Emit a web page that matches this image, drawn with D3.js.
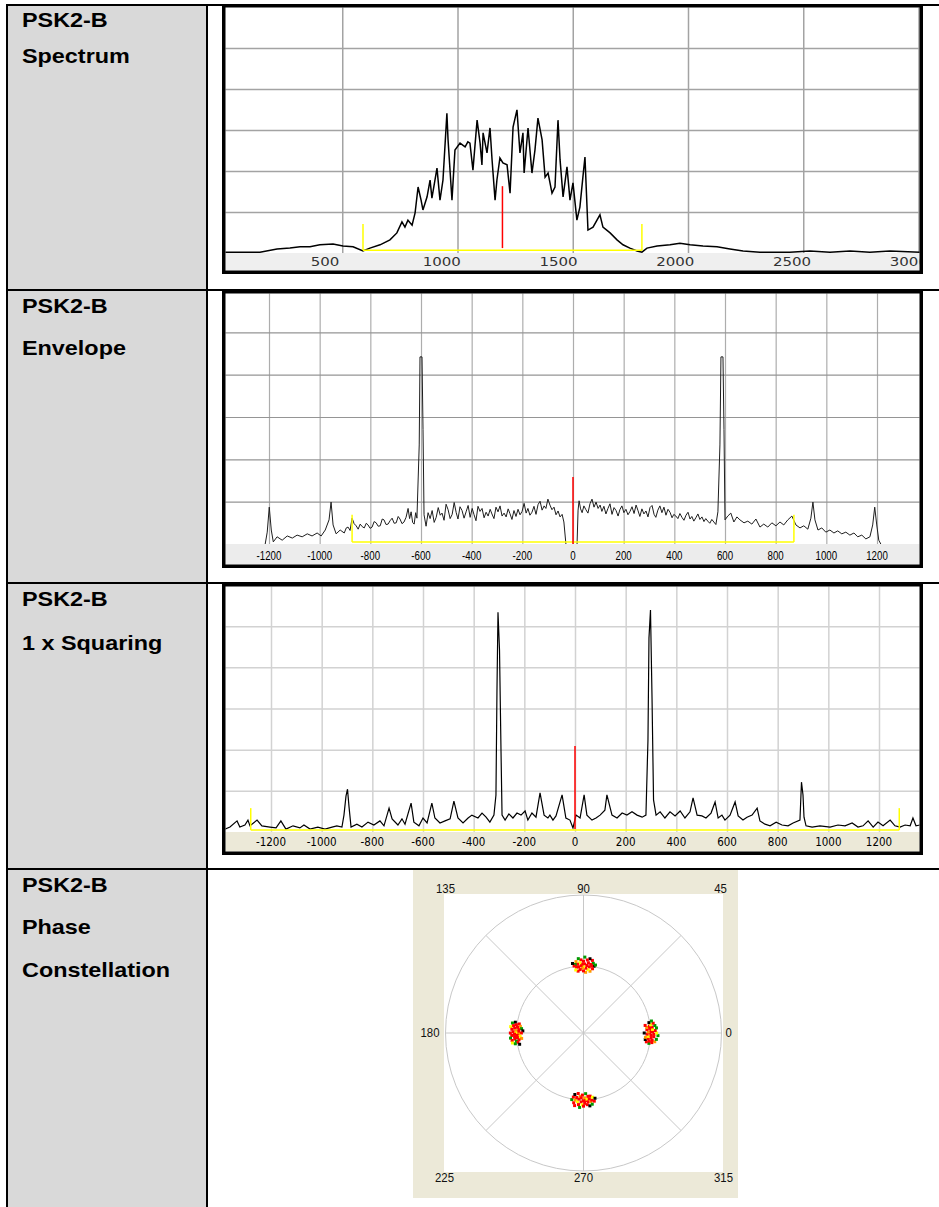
<!DOCTYPE html>
<html>
<head>
<meta charset="utf-8">
<title>PSK2-B signal analysis</title>
<script src="https://cdn.jsdelivr.net/npm/d3@7"></script>
<style>
  html, body { margin: 0; padding: 0; background: #fff; }
  svg { display: block; }
</style>
</head>
<body>
<svg id="page" width="939" height="1207"></svg>
<script>
// ---------------- data ----------------
const rowTitles = [
  ["PSK2-B", "Spectrum"],
  ["PSK2-B", "Envelope"],
  ["PSK2-B", "1 x Squaring"],
  ["PSK2-B", "Phase", "Constellation"]
];

// Spectrum: [frequency Hz, level]
const specTrace = [
  [-9,0.2],[143,0.2],[217,1.0],[273,1.2],[317,1.5],[360,1.5],[403,2.0],[460,2.2],[503,1.7],[547,1.5],
  [590,0.5],[620,1.2],[664,2.0],[707,3.2],[737,4.9],[759,7.6],[772,6.3],[785,8.0],[803,6.8],[816,9.8],
  [829,16.1],[842,12.9],[850,10.5],[868,13.7],[881,17.8],[889,13.4],[911,20.7],[924,12.9],[937,17.8],[954,34.1],
  [959,27.6],[976,12.9],[989,25.1],[1011,26.8],[1033,25.9],[1045,27.1],[1054,26.8],[1067,20.2],[1085,32.4],[1098,26.8],
  [1106,21.5],[1111,29.3],[1128,24.4],[1141,30.5],[1150,22.7],[1163,12.9],[1171,17.8],[1184,23.2],[1197,22.0],[1215,21.5],
  [1228,14.6],[1241,30.7],[1258,34.9],[1271,24.4],[1284,29.3],[1289,19.5],[1306,30.5],[1323,19.5],[1336,25.1],[1349,32.9],
  [1367,27.6],[1380,18.5],[1393,19.5],[1410,14.6],[1423,16.1],[1436,32.4],[1445,22.7],[1458,13.7],[1475,21.0],[1488,12.9],
  [1501,17.1],[1518,8.0],[1531,11.2],[1544,18.5],[1553,23.4],[1566,5.6],[1588,6.3],[1618,9.3],[1631,6.3],[1662,4.9],
  [1692,3.2],[1718,2.0],[1748,1.2],[1779,0.5],[1800,0.2],[1822,1.2],[1866,1.7],[1922,2.0],[1965,2.4],[2009,2.0],
  [2065,1.7],[2126,1.5],[2182,1.0],[2239,0.5],[2312,0.2],[2442,0.2],[2529,0.5],[2616,0.2],[2703,0.5],[2789,0.2],
  [2876,0.5],[3006,0.2]
];
const specTicks = [500, 1000, 1500, 2000, 2500, 3000];
const specBand = [590, 1800];
const specCarrier = 1195;
const specMarks = { base: 0.7, tick: 7.1, carrierLow: 1.2, carrierHigh: 16.3 };

// Envelope: [frequency Hz, level]; null breaks the trace
const envTrace = [
  [-1215,0],[-1207,2.8],[-1199,8.7],[-1191,3.3],[-1183,0.5],[-1168,1.7],[-1148,0.9],[-1128,1.9],[-1108,1.4],[-1089,2.1],
  [-1069,1.7],[-1049,2.4],[-1030,1.9],[-1010,2.6],[-994,1.9],[-978,3.3],[-963,5.7],[-955,9.9],[-947,4.5],[-935,2.4],
  [-919,3.3],[-903,2.6],[-895,3.8],[-888,4.0],[-880,3.2],[-872,6.1],[-864,4.8],[-856,4.3],[-848,3.5],[-840,4.7],
  [-832,4.1],[-824,3.8],[-816,4.9],[-809,4.5],[-801,3.7],[-793,4.0],[-785,5.3],[-777,5.0],[-769,4.2],[-761,4.3],
  [-753,5.9],[-746,5.7],[-738,4.6],[-730,4.7],[-722,5.5],[-714,6.1],[-706,4.9],[-698,5.0],[-690,6.5],[-683,5.9],
  [-675,4.8],[-667,5.2],[-659,6.3],[-651,8.4],[-645,6.0],[-639,7.6],[-633,5.1],[-627,4.7],[-621,7.4],[-616,6.1],
  [-607,23.4],[-604,44.2],[-596,44.2],[-592,27.0],[-588,6.9],[-580,4.2],[-572,7.4],[-564,6.0],[-556,7.9],[-548,5.1],
  [-540,6.3],[-532,8.6],[-524,6.8],[-517,7.3],[-509,5.6],[-501,9.4],[-493,8.1],[-485,6.0],[-477,7.0],[-469,9.8],
  [-461,7.4],[-454,5.9],[-446,8.8],[-438,7.9],[-430,6.1],[-422,7.6],[-414,9.1],[-406,6.3],[-398,8.4],[-391,7.0],
  [-383,5.5],[-375,8.9],[-367,7.7],[-359,8.4],[-351,6.2],[-343,7.5],[-335,6.6],[-327,8.2],[-320,7.1],[-312,6.0],
  [-304,8.7],[-296,7.6],[-288,9.0],[-280,6.6],[-272,7.3],[-264,6.4],[-256,8.3],[-249,7.2],[-241,5.8],[-233,7.9],
  [-225,6.5],[-217,8.2],[-209,6.9],[-201,7.7],[-193,9.6],[-185,7.3],[-178,8.4],[-170,6.8],[-162,7.5],[-154,8.9],
  [-146,7.0],[-138,9.3],[-130,10.1],[-122,8.0],[-114,9.0],[-107,8.4],[-99,10.6],[-91,9.2],[-83,8.1],[-75,8.7],
  [-67,6.9],[-59,7.8],[-51,6.4],[-43,7.0],[-36,5.2],[-28,0],[0,null],[16,0],[20,8.0],[24,10.2],
  [30,8.3],[36,7.4],[43,9.0],[51,8.1],[59,7.3],[67,9.5],[75,10.6],[83,8.7],[91,9.9],[99,8.4],
  [107,9.2],[114,7.7],[122,8.9],[130,7.1],[138,8.4],[146,9.5],[154,7.0],[162,8.6],[170,7.9],[178,6.6],
  [185,8.1],[193,9.0],[201,7.4],[209,8.2],[217,6.9],[225,7.7],[233,8.8],[241,7.2],[249,9.2],[256,8.0],
  [264,6.5],[272,8.3],[280,7.1],[288,7.8],[296,6.4],[304,8.6],[312,9.1],[320,7.0],[327,6.3],[335,8.0],
  [343,9.0],[351,7.4],[359,8.7],[367,6.8],[375,8.2],[383,7.5],[391,6.2],[398,7.0],[406,6.6],[414,6.0],
  [422,7.2],[430,6.3],[438,5.6],[446,6.8],[454,7.5],[462,5.9],[469,6.5],[477,5.4],[485,6.2],[493,7.1],
  [501,5.8],[509,6.4],[517,5.3],[524,6.0],[532,5.4],[540,4.9],[548,5.8],[556,5.2],[564,4.6],[572,7.6],
  [580,23.4],[584,44.2],[592,44.2],[596,27.0],[600,5.7],[611,6.6],[623,7.3],[635,5.2],[647,6.4],[659,5.7],
  [675,5.0],[690,5.4],[706,4.7],[722,5.9],[738,4.0],[753,4.7],[769,4.0],[785,5.0],[801,4.3],[817,5.2],
  [832,4.5],[848,5.7],[864,6.6],[880,4.5],[896,3.8],[911,4.3],[927,3.5],[939,6.1],[947,9.9],[955,5.7],
  [967,3.3],[982,3.8],[998,2.8],[1014,3.3],[1030,2.6],[1045,3.1],[1061,2.4],[1077,2.8],[1093,2.1],[1109,2.6],
  [1124,1.7],[1140,2.1],[1156,1.2],[1172,1.7],[1183,4.5],[1191,8.7],[1199,4.5],[1207,0.9],[1215,0]
];
const envTicks = [-1200,-1000,-800,-600,-400,-200,0,200,400,600,800,1000,1200];
const envBand = [-872, 872];
const envCarrier = 0;
const envMarks = { base: 0.5, tick: 6.9, carrierLow: 0, carrierHigh: 15.8 };

// Squared signal: [frequency Hz, level]
const sqTrace = [
  [-1382,0.7],[-1362,1.2],[-1334,2.7],[-1323,1.2],[-1303,1.7],[-1291,2.9],[-1283,1.5],[-1255,2.9],[-1236,1.5],[-1204,1.2],
  [-1180,1.0],[-1161,2.7],[-1141,0.7],[-1113,1.5],[-1086,1.0],[-1070,1.7],[-1046,0.7],[-1015,1.2],[-987,0.7],[-959,1.2],
  [-940,1.5],[-920,1.2],[-912,4.1],[-904,8.7],[-898,10.4],[-892,6.1],[-884,1.2],[-861,1.9],[-841,1.2],[-817,2.4],
  [-794,1.7],[-770,2.7],[-754,1.5],[-734,5.8],[-722,3.2],[-699,1.7],[-683,3.2],[-671,1.9],[-647,7.0],[-636,2.4],
  [-616,1.5],[-600,3.4],[-584,2.2],[-565,7.0],[-553,3.4],[-533,2.2],[-513,2.7],[-493,3.2],[-478,7.5],[-462,3.4],
  [-442,2.2],[-422,3.4],[-407,4.1],[-383,3.4],[-367,4.6],[-351,3.6],[-336,2.4],[-320,4.1],[-312,9.0],[-308,34.5],
  [-304,53.4],[-298,44.2],[-292,19.4],[-288,4.1],[-276,2.9],[-261,4.4],[-245,3.4],[-229,4.6],[-213,4.1],[-197,5.1],
  [-186,2.9],[-170,4.6],[-154,3.6],[-138,9.5],[-122,4.1],[-107,3.4],[-99,4.1],[-87,2.9],[-75,3.9],[-51,9.0],
  [-36,3.4],[-20,2.9],[-8,1.0],[4,4.1],[20,3.4],[36,9.0],[47,4.1],[67,2.9],[83,3.4],[99,4.1],
  [118,5.3],[126,9.0],[146,4.1],[166,3.4],[186,4.6],[205,4.1],[225,4.9],[245,4.1],[265,3.6],[280,4.1],
  [288,22.3],[292,47.1],[298,53.9],[304,32.8],[310,7.8],[320,4.1],[336,4.9],[355,3.4],[375,4.9],[395,3.9],
  [415,5.1],[434,3.4],[454,4.9],[466,8.3],[482,4.1],[501,3.9],[517,3.4],[537,4.6],[553,7.3],[565,3.4],
  [580,4.1],[592,2.9],[612,4.1],[632,7.3],[644,3.9],[663,2.9],[679,3.6],[699,4.1],[719,5.8],[730,2.7],
  [750,1.9],[770,1.5],[794,2.4],[817,1.7],[841,1.5],[861,2.2],[888,2.9],[894,12.1],[900,9.0],[904,3.6],
  [912,1.5],[936,1.2],[967,1.5],[1007,1.2],[1038,1.7],[1066,1.5],[1094,2.2],[1117,1.2],[1137,1.5],[1157,2.7],
  [1177,1.2],[1196,2.4],[1216,1.5],[1244,2.9],[1263,1.5],[1283,1.2],[1303,1.7],[1323,1.5],[1334,3.4],[1346,1.5],
  [1362,1.7]
];
const sqTicks = [-1200,-1000,-800,-600,-400,-200,0,200,400,600,800,1000,1200];
const sqBand = [-1280, 1280];
const sqCarrier = 0;
const sqMarks = { base: 0.5, tick: 5.8, carrierLow: 0.7, carrierHigh: 20.9 };

const levelGrid = [10, 20, 30, 40, 50];

// Phase constellation: [phase offset deg, magnitude, colour key] around each symbol
const polarRings = [0.485, 1];
const polarSpokes = [0, 45, 90, 135, 180, 225, 270, 315];
const symbolAngles = [0, 90, 180, 270];
const cluster0 = [
  [-9,0.48,'g'],[-8,0.50,'r'],[-8,0.46,'r'],[-7,0.52,'o'],[-7,0.48,'r'],[-6,0.45,'k'],[-6,0.50,'r'],[-5,0.47,'r'],
  [-5,0.53,'g'],[-4,0.49,'r'],[-4,0.45,'o'],[-3,0.51,'r'],[-3,0.47,'y'],[-2,0.49,'r'],[-2,0.54,'g'],[-1,0.46,'r'],
  [-1,0.51,'r'],[0,0.48,'r'],[0,0.53,'y'],[0,0.44,'k'],[1,0.50,'r'],[1,0.47,'o'],[2,0.49,'r'],[2,0.52,'r'],
  [3,0.46,'r'],[3,0.50,'y'],[4,0.48,'r'],[4,0.53,'g'],[5,0.50,'r'],[5,0.46,'o'],[6,0.48,'r'],[6,0.52,'g'],
  [7,0.49,'y'],[7,0.45,'r'],[8,0.51,'r'],[9,0.48,'k'],[10,0.50,'g']
];
const cluster90 = [
  [-9,0.49,'k'],[-8,0.47,'r'],[-8,0.51,'g'],[-7,0.49,'r'],[-7,0.53,'r'],[-6,0.45,'o'],[-6,0.50,'r'],[-5,0.48,'r'],
  [-5,0.54,'k'],[-4,0.46,'y'],[-4,0.51,'r'],[-3,0.49,'r'],[-3,0.53,'r'],[-2,0.47,'r'],[-2,0.44,'o'],[-1,0.50,'r'],
  [-1,0.55,'g'],[0,0.48,'y'],[0,0.52,'r'],[0,0.45,'r'],[1,0.50,'r'],[1,0.47,'o'],[2,0.53,'r'],[2,0.49,'r'],
  [3,0.46,'r'],[3,0.51,'y'],[4,0.48,'r'],[4,0.54,'g'],[5,0.50,'r'],[5,0.45,'r'],[6,0.52,'o'],[6,0.48,'r'],
  [7,0.50,'g'],[7,0.46,'y'],[8,0.49,'r'],[9,0.51,'k'],[-10,0.50,'g']
];
const cluster180 = [
  [-9,0.50,'k'],[-8,0.47,'r'],[-8,0.52,'g'],[-7,0.49,'r'],[-6,0.46,'o'],[-6,0.51,'r'],[-5,0.48,'r'],[-5,0.53,'y'],
  [-4,0.50,'r'],[-4,0.45,'g'],[-3,0.47,'r'],[-3,0.52,'r'],[-2,0.49,'o'],[-2,0.44,'k'],[-1,0.51,'r'],[-1,0.47,'r'],
  [0,0.49,'y'],[0,0.53,'r'],[0,0.45,'r'],[1,0.50,'r'],[1,0.47,'o'],[2,0.52,'r'],[2,0.48,'r'],[3,0.46,'y'],
  [3,0.50,'r'],[4,0.53,'g'],[4,0.48,'r'],[5,0.50,'r'],[5,0.45,'o'],[6,0.47,'r'],[6,0.52,'r'],[7,0.49,'g'],
  [8,0.48,'r'],[8,0.52,'y'],[9,0.50,'g'],[10,0.47,'k']
];
const cluster270 = [
  [-10,0.49,'g'],[-9,0.47,'r'],[-8,0.51,'r'],[-8,0.45,'k'],[-7,0.49,'o'],[-7,0.53,'r'],[-6,0.47,'r'],[-5,0.50,'y'],
  [-5,0.44,'r'],[-4,0.52,'r'],[-4,0.48,'r'],[-3,0.46,'o'],[-3,0.54,'g'],[-2,0.50,'r'],[-2,0.47,'r'],[-1,0.52,'y'],
  [-1,0.45,'r'],[0,0.49,'r'],[0,0.53,'r'],[1,0.47,'o'],[1,0.51,'r'],[2,0.49,'r'],[2,0.44,'g'],[3,0.52,'r'],
  [3,0.48,'y'],[4,0.46,'r'],[4,0.50,'r'],[5,0.53,'k'],[5,0.48,'r'],[6,0.50,'o'],[6,0.46,'r'],[7,0.49,'r'],
  [7,0.52,'g'],[8,0.47,'y'],[9,0.50,'r'],[10,0.48,'k']
];
const clusters = [cluster0, cluster90, cluster180, cluster270];
const dotColors = { r: '#ff0000', o: '#ff9a00', y: '#ffff00', g: '#009a00', k: '#000000' };

// ---------------- drawing ----------------
const svg = d3.select('#page');
const defs = svg.append('defs');

function label(g, x, y, str, o) {
  return g.append('text')
    .attr('transform', `translate(${x},${y}) scale(${o.sx || 1},1)`)
    .attr('text-anchor', o.anchor || 'middle')
    .attr('dy', o.dy || 0)
    .style('font-family', o.font)
    .style('font-size', o.size + 'px')
    .style('font-weight', o.weight || 'normal')
    .attr('fill', o.fill || '#000')
    .text(str);
}

// table: grey title column, rules and borders
svg.append('rect').attr('x', 8).attr('y', 5).attr('width', 198).attr('height', 1202).attr('fill', '#d9d9d9');
[5, 290, 583, 869].forEach(y =>
  svg.append('rect').attr('x', 6).attr('y', y - 1).attr('width', 933).attr('height', 2).attr('fill', '#000'));
[7, 207].forEach(x =>
  svg.append('rect').attr('x', x - 1).attr('y', 4).attr('width', 2).attr('height', 1203).attr('fill', '#000'));

const titleBaselines = [[27, 63], [313, 355], [606, 650], [892, 934, 977]];
rowTitles.forEach((lines, i) => {
  lines.forEach((t, j) => label(svg, 22, titleBaselines[i][j], t, {
    anchor: 'start', font: '"Liberation Sans", Arial, sans-serif', size: 19.5, weight: 'bold', sx: 1.2, fill: '#000'
  }));
});

function linePanel(p) {
  const [x0, y0, x1, y1] = p.box;
  const fw = 3.5;
  const il = x0 + fw, ir = x1 - fw, it = y0 + fw, ib = y1 - fw;
  const g = svg.append('g');
  g.append('rect').attr('x', il).attr('y', it).attr('width', ir - il).attr('height', ib - it).attr('fill', '#fff');
  g.append('rect').attr('x', il).attr('y', p.bandTop).attr('width', ir - il).attr('height', ib - p.bandTop).attr('fill', p.bandFill);

  // grid through d3 axes
  const gx = g.append('g').attr('transform', `translate(0,${p.bandTop})`)
    .call(d3.axisBottom(p.x).tickValues(p.xTicks).tickSize(-(p.bandTop - it)).tickFormat(''));
  const gy = g.append('g').attr('transform', `translate(${il},0)`)
    .call(d3.axisLeft(p.y).tickValues(levelGrid).tickSize(-(ir - il)).tickFormat(''));
  [gx, gy].forEach(a => {
    a.select('.domain').remove();
    a.selectAll('line').attr('stroke', p.gridColor).attr('stroke-width', p.gridWidth);
  });
  gx.selectAll('line').attr('stroke', p.vGridColor || p.gridColor);

  // tick labels, clipped to the inside of the frame
  const labelClip = 'lclip' + p.id;
  defs.append('clipPath').attr('id', labelClip).append('rect')
    .attr('x', il).attr('y', it).attr('width', ir - il).attr('height', ib - it);
  const gl = g.append('g').attr('clip-path', `url(#${labelClip})`);
  p.xTicks.forEach(t => label(gl, p.labelX(t), p.labelY, String(t), p.labelFont));

  // trace
  const clipId = 'clip' + p.id;
  defs.append('clipPath').attr('id', clipId).append('rect')
    .attr('x', il).attr('y', it).attr('width', ir - il).attr('height', p.bandTop + 1 - it);
  const line = d3.line().defined(d => d[1] !== null).x(d => p.x(d[0])).y(d => p.y(d[1]));
  g.append('path').datum(p.trace).attr('d', line).attr('clip-path', `url(#${clipId})`)
    .attr('fill', 'none').attr('stroke', p.traceColor).attr('stroke-width', p.traceWidth)
    .attr('stroke-linejoin', 'miter');

  // bandwidth (yellow) and carrier (red) markers
  const m = p.marks;
  const yl = '#ffff00';
  g.append('line').attr('x1', p.x(p.band[0])).attr('x2', p.x(p.band[1]))
    .attr('y1', p.y(m.base)).attr('y2', p.y(m.base)).attr('stroke', yl).attr('stroke-width', 1.5);
  p.band.forEach(b => g.append('line').attr('x1', p.x(b)).attr('x2', p.x(b))
    .attr('y1', p.y(m.base)).attr('y2', p.y(m.tick)).attr('stroke', yl).attr('stroke-width', 1.5));
  g.append('line').attr('x1', p.x(p.carrier)).attr('x2', p.x(p.carrier))
    .attr('y1', p.y(m.carrierLow)).attr('y2', p.y(m.carrierHigh)).attr('stroke', '#ff0000').attr('stroke-width', 1.5);

  // frame
  g.append('rect').attr('x', x0 + fw / 2).attr('y', y0 + fw / 2)
    .attr('width', x1 - x0 - fw).attr('height', y1 - y0 - fw)
    .attr('fill', 'none').attr('stroke', '#000').attr('stroke-width', fw);
}

// Spectrum
const specX = d3.scaleLinear().domain([0, 3000]).range([227, 918.5]);
const specLabelX = d3.scaleLinear().domain([500, 2500]).range([325, 792]);
linePanel({
  id: 'spec', box: [222, 4, 923, 274], bandTop: 253, bandFill: '#efefef',
  x: specX, y: d3.scaleLinear().domain([0, 60]).range([253, 7]),
  xTicks: specTicks, gridColor: '#a3a3a3', gridWidth: 1.5,
  labelX: specLabelX, labelY: 262,
  labelFont: { font: '"DejaVu Sans", Verdana, sans-serif', size: 12, sx: 1.25, dy: '0.36em', fill: '#333' },
  trace: specTrace, traceColor: '#000', traceWidth: 1.5,
  band: specBand, carrier: specCarrier, marks: specMarks
});

// Envelope
const envX = d3.scaleLinear().domain([-1200, 1200]).range([269, 877]);
linePanel({
  id: 'env', box: [222, 290, 923, 568], bandTop: 544, bandFill: '#ececec',
  x: envX, y: d3.scaleLinear().domain([0, 60]).range([544, 290]),
  xTicks: envTicks, gridColor: '#959595', vGridColor: '#adadad', gridWidth: 1.2,
  labelX: envX, labelY: 555,
  labelFont: { font: '"Liberation Sans", Arial, sans-serif', size: 13.5, sx: 0.72, dy: '0.36em', fill: '#000' },
  trace: envTrace, traceColor: '#1e1e1e', traceWidth: 1,
  band: envBand, carrier: envCarrier, marks: envMarks
});

// 1 x squaring
const sqX = d3.scaleLinear().domain([-1200, 1200]).range([271, 879]);
linePanel({
  id: 'sq', box: [222, 583, 923, 855], bandTop: 832, bandFill: '#ece9d8',
  x: sqX, y: d3.scaleLinear().domain([0, 60]).range([832, 585]),
  xTicks: sqTicks, gridColor: '#d2d2d2', gridWidth: 1.5,
  labelX: sqX, labelY: 842,
  labelFont: { font: '"DejaVu Sans", Verdana, sans-serif', size: 11.5, sx: 0.9, dy: '0.36em', fill: '#000' },
  trace: sqTrace, traceColor: '#000', traceWidth: 1.2,
  band: sqBand, carrier: sqCarrier, marks: sqMarks
});

// Phase constellation
(function () {
  const g = svg.append('g');
  const cx = 583.5, cy = 1033;
  const r = d3.scaleLinear().domain([0, 1]).range([0, 138]);
  g.append('rect').attr('x', 413).attr('y', 870).attr('width', 325).attr('height', 328).attr('fill', '#ece9d8');
  g.append('rect').attr('x', 444).attr('y', 894).attr('width', 279).attr('height', 278).attr('fill', '#fff');

  const gridStroke = '#c8c8c8';
  polarRings.forEach(v => g.append('circle').attr('cx', cx).attr('cy', cy).attr('r', r(v))
    .attr('fill', 'none').attr('stroke', gridStroke).attr('stroke-width', 1));
  polarSpokes.forEach(a => {
    const [dx, dy] = d3.pointRadial((90 - a) * Math.PI / 180, r(1));
    g.append('line').attr('x1', cx).attr('y1', cy).attr('x2', cx + dx).attr('y2', cy + dy)
      .attr('stroke', gridStroke).attr('stroke-width', 1);
  });

  // angle labels around the plot
  const place = {
    0: [cx + 142, cy, 'start'], 45: [cx + 137, cy - 144, 'middle'], 90: [cx, cy - 144, 'middle'],
    135: [cx - 138, cy - 144, 'middle'], 180: [cx - 144, cy, 'end'], 225: [cx - 139, cy + 145, 'middle'],
    270: [cx, cy + 145, 'middle'], 315: [cx + 140, cy + 145, 'middle']
  };
  polarSpokes.forEach(a => {
    const [lx, ly, anchor] = place[a];
    label(g, lx, ly, String(a), { font: '"Liberation Sans", Arial, sans-serif', size: 12, anchor, dy: '0.36em', fill: '#111', sx: 0.95 });
  });

  // received symbols
  clusters.forEach((pts, i) => {
    const base = symbolAngles[i];
    pts.forEach(([dp, mag, c]) => {
      const [dx, dy] = d3.pointRadial((90 - (base + dp)) * Math.PI / 180, r(mag));
      g.append('rect').attr('x', cx + dx - 1.5).attr('y', cy + dy - 1.5)
        .attr('width', 3).attr('height', 3).attr('fill', dotColors[c]);
    });
  });
})();
</script>
</body>
</html>
